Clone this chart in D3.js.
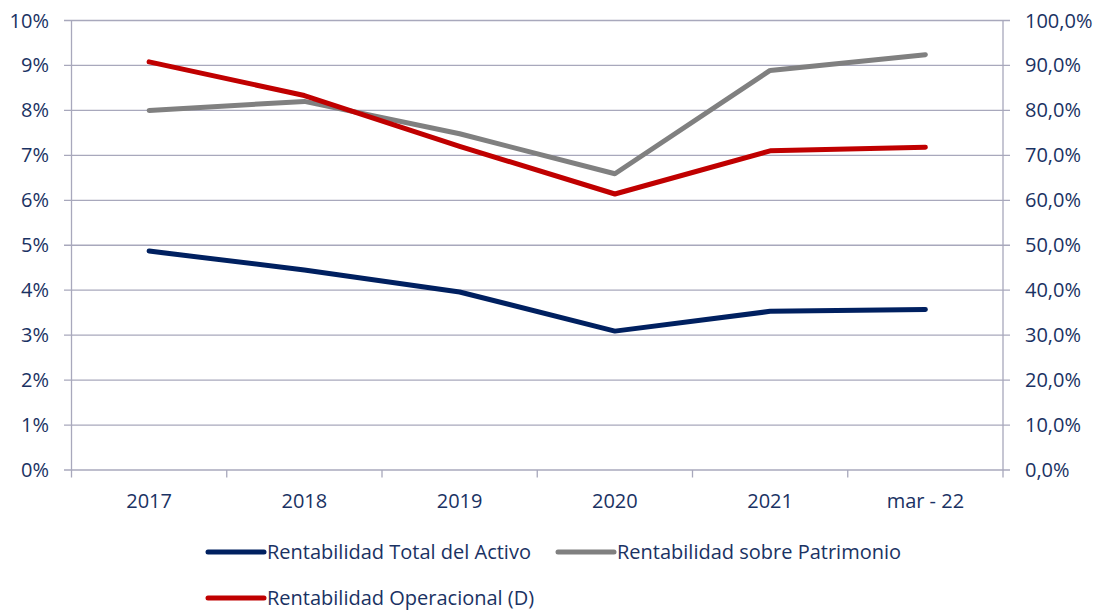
<!DOCTYPE html>
<html><head><meta charset="utf-8">
<script src="https://cdn.jsdelivr.net/npm/d3@7"></script>
<style>
html,body{margin:0;padding:0;background:#fff;}
svg{display:block;}
text{font-family:"Open Sans",sans-serif;fill:#1A3263;}
</style></head>
<body>
<svg id="chart" width="1097" height="612"></svg>
<script>
const categories = ["2017","2018","2019","2020","2021","mar - 22"];
const rentActivo = [4.87, 4.45, 3.96, 3.09, 3.53, 3.57];          // left axis, %
const rentPatrimonio = [8.00, 8.20, 7.48, 6.59, 8.89, 9.24];      // left axis, %
const rentOperacional = [90.8, 83.3, 72.0, 61.4, 71.0, 71.8];     // right axis (D), %
const leftTicks = [0,1,2,3,4,5,6,7,8,9,10];
const rightTicks = [0,10,20,30,40,50,60,70,80,90,100];

const series = [
  {name:"Rentabilidad Total del Activo", values:rentActivo, axis:"L", color:"#002060"},
  {name:"Rentabilidad sobre Patrimonio", values:rentPatrimonio, axis:"L", color:"#808080"},
  {name:"Rentabilidad Operacional (D)", values:rentOperacional, axis:"R", color:"#C00000"}
];

const svg = d3.select("#chart");
const m = {left:71.5, right:1003, top:20.5, bottom:470};
const x = d3.scaleBand().domain(categories).range([m.left, m.right]);
const yL = d3.scaleLinear().domain([0,10]).range([m.bottom, m.top]);
const yR = d3.scaleLinear().domain([0,100]).range([m.bottom, m.top]);
const grid = "#A8A8BC";
const fs = "20px";

// gridlines
svg.append("g").selectAll("line").data(leftTicks).join("line")
  .attr("x1", m.left-7.5).attr("x2", m.right+7)
  .attr("y1", d=>yL(d)).attr("y2", d=>yL(d))
  .attr("stroke", grid).attr("stroke-width",1.3);

// axes lines
svg.append("line").attr("x1",m.left).attr("x2",m.left).attr("y1",m.top).attr("y2",m.bottom+7.5)
  .attr("stroke",grid).attr("stroke-width",1.3);
svg.append("line").attr("x1",m.right).attr("x2",m.right).attr("y1",m.top).attr("y2",m.bottom+7.5)
  .attr("stroke",grid).attr("stroke-width",1.3);
// category ticks
const bounds = categories.slice(1).map(c=>x(c));
svg.append("g").selectAll("line").data(bounds).join("line")
  .attr("x1",d=>d).attr("x2",d=>d).attr("y1",m.bottom).attr("y2",m.bottom+7.5)
  .attr("stroke",grid).attr("stroke-width",1.3);

// left labels
svg.append("g").selectAll("text").data(leftTicks).join("text")
  .attr("x", 49).attr("y", d=>yL(d)).attr("dy","0.35em")
  .attr("text-anchor","end").style("font-size",fs)
  .text(d=>d+"%");
// right labels
svg.append("g").selectAll("text").data(rightTicks).join("text")
  .attr("x", 1025).attr("y", d=>yR(d)).attr("dy","0.35em")
  .attr("text-anchor","start").style("font-size",fs)
  .text(d=>d3.format(".1f")(d).replace(".",",")+"%");
// category labels
svg.append("g").selectAll("text").data(categories).join("text")
  .attr("x", d=>x(d)+x.bandwidth()/2).attr("y", 508)
  .attr("text-anchor","middle").style("font-size",fs)
  .text(d=>d);

// lines
series.forEach(s=>{
  const ys = s.axis==="L" ? yL : yR;
  const line = d3.line().x((d,i)=>x(categories[i])+x.bandwidth()/2).y(d=>ys(d));
  svg.append("path").datum(s.values).attr("d",line)
    .attr("fill","none").attr("stroke",s.color).attr("stroke-width",5)
    .attr("stroke-linecap","round").attr("stroke-linejoin","round");
});

// legend
const legPos = [{x:208,y:552},{x:558,y:552},{x:208,y:598}];
series.forEach((s,i)=>{
  const p = legPos[i];
  svg.append("line").attr("x1",p.x).attr("x2",p.x+56).attr("y1",p.y).attr("y2",p.y)
    .attr("stroke",s.color).attr("stroke-width",5).attr("stroke-linecap","round");
  svg.append("text").attr("x",p.x+59).attr("y",p.y).attr("dy","0.35em")
    .style("font-size",fs).text(s.name);
});
</script>
</body></html>
